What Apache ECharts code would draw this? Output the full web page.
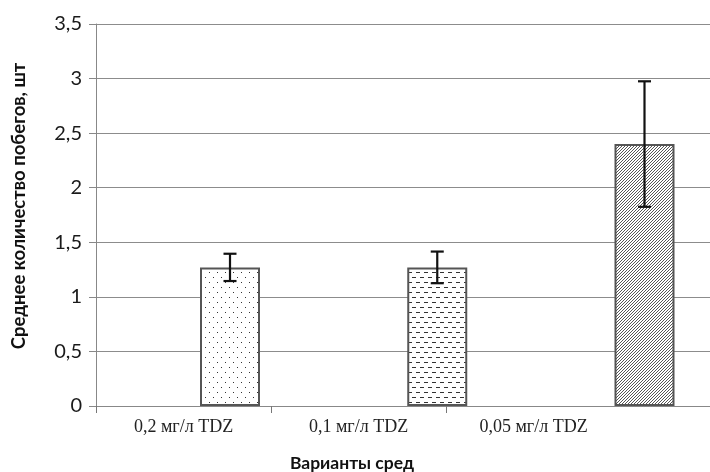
<!DOCTYPE html>
<html>
<head>
<meta charset="utf-8">
<script src="https://cdn.jsdelivr.net/npm/echarts@6/dist/echarts.min.js"></script>
<style>
  html, body { margin: 0; padding: 0; background: #fff; }
  #chart { width: 710px; height: 472px; }
</style>
</head>
<body>
<div id="chart"></div>
<script>
const categories = ['0,2 мг/л TDZ', '0,1 мг/л TDZ', '0,05 мг/л TDZ'];
const means = [1.27, 1.27, 2.40];
const errors = [0.125, 0.145, 0.575];
const patterns = ['dots', 'dashes', 'hatch'];

function makePattern(kind) {
  const c = document.createElement('canvas');
  const ctx = c.getContext('2d');
  if (kind === 'hatch') {
    c.width = 3; c.height = 3;
    ctx.fillStyle = '#fff';
    ctx.fillRect(0, 0, 3, 3);
    ctx.fillStyle = '#555';
    // one pixel per row, shifting left each row down -> "////"
    ctx.fillRect(2, 0, 1, 1);
    ctx.fillRect(1, 1, 1, 1);
    ctx.fillRect(0, 2, 1, 1);
  } else {
    c.width = 8; c.height = 10;
    ctx.fillStyle = '#fff';
    ctx.fillRect(0, 0, 8, 10);
    ctx.fillStyle = '#333';
    if (kind === 'dots') {
      ctx.fillRect(1, 2, 1, 1);
      ctx.fillRect(5, 7, 1, 1);
    } else {
      ctx.fillRect(0, 2, 4, 1);
      ctx.fillRect(4, 7, 4, 1);
    }
  }
  return c;
}

const chart = echarts.init(document.getElementById('chart'));

const barData = means.map((v, i) => ({
  value: v,
  itemStyle: { color: { image: makePattern(patterns[i]), repeat: 'repeat' } }
}));
const errData = means.map((v, i) => [i, v - errors[i], v + errors[i]]);

chart.setOption({
  animation: false,
  grid: [
    // main frame: y axis, gridlines, x axis line
    { left: 96, top: 24, right: 0, height: 382 },
    // bars + error bars
    { left: 230, top: 24, width: 414.5, height: 382 },
    // category labels and ticks
    { left: 96, top: 24, width: 525, height: 382 }
  ],
  xAxis: [
    {
      gridIndex: 0,
      type: 'value',
      min: 0,
      max: 1,
      axisLine: { show: true, lineStyle: { color: '#888', width: 1 } },
      axisTick: { show: false },
      axisLabel: { show: false },
      splitLine: { show: false }
    },
    {
      gridIndex: 1,
      type: 'category',
      boundaryGap: false,
      data: categories,
      show: false
    },
    {
      gridIndex: 2,
      type: 'value',
      min: 0,
      max: categories.length,
      axisLine: { show: false },
      splitLine: { show: false },
      axisTick: {
        show: true, length: 7,
        lineStyle: { color: '#777' },
        customValues: categories.map((c, i) => i)
      },
      axisLabel: {
        fontFamily: 'Liberation Serif', fontSize: 18, color: '#222', margin: 12,
        customValues: categories.map((c, i) => i + 0.5),
        formatter: (v) => categories[Math.floor(v)]
      }
    }
  ],
  yAxis: [
    {
      gridIndex: 0,
      type: 'value',
      min: 0,
      max: 3.5,
      interval: 0.5,
      axisLine: { show: true, lineStyle: { color: '#888', width: 1 } },
      axisTick: { show: true, length: 7, lineStyle: { color: '#888' } },
      splitLine: { lineStyle: { color: '#8c8c8c', width: 1 } },
      axisLabel: {
        fontFamily: 'Lato', fontSize: 20, color: '#1a1a1a', margin: 14,
        formatter: (v) => String(v).replace('.', ',')
      }
    },
    { gridIndex: 1, type: 'value', min: 0, max: 3.5, show: false },
    { gridIndex: 2, type: 'value', min: 0, max: 3.5, show: false }
  ],
  series: [
    {
      type: 'bar',
      xAxisIndex: 1,
      yAxisIndex: 1,
      barWidth: 60,
      clip: false,
      data: barData,
      itemStyle: { borderColor: '#555', borderWidth: 2 }
    },
    {
      type: 'custom',
      xAxisIndex: 1,
      yAxisIndex: 1,
      clip: false,
      z: 5,
      data: errData,
      encode: { x: 0, y: [1, 2] },
      renderItem: function (params, api) {
        const top = api.coord([api.value(0), api.value(2)]);
        const bot = api.coord([api.value(0), api.value(1)]);
        const cap = 6.5;
        const style = { stroke: '#111', lineWidth: 2.2 };
        return {
          type: 'group',
          children: [
            { type: 'line', shape: { x1: top[0], y1: top[1], x2: bot[0], y2: bot[1] }, style: style },
            { type: 'line', shape: { x1: top[0] - cap, y1: top[1], x2: top[0] + cap, y2: top[1] }, style: style },
            { type: 'line', shape: { x1: bot[0] - cap, y1: bot[1], x2: bot[0] + cap, y2: bot[1] }, style: style }
          ]
        };
      }
    }
  ],
  graphic: [
    {
      type: 'text',
      x: 19,
      y: 206,
      rotation: Math.PI / 2,
      style: {
        text: 'Среднее количество побегов, шт',
        font: 'bold 18.5px Lato',
        fill: '#111',
        align: 'center',
        verticalAlign: 'middle'
      }
    },
    {
      type: 'text',
      x: 352,
      y: 463,
      style: {
        text: 'Варианты сред',
        font: 'bold 17.5px Lato',
        fill: '#111',
        align: 'center',
        verticalAlign: 'middle'
      }
    }
  ]
});

window.addEventListener('resize', function () {
  chart.resize();
});
</script>
</body>
</html>
